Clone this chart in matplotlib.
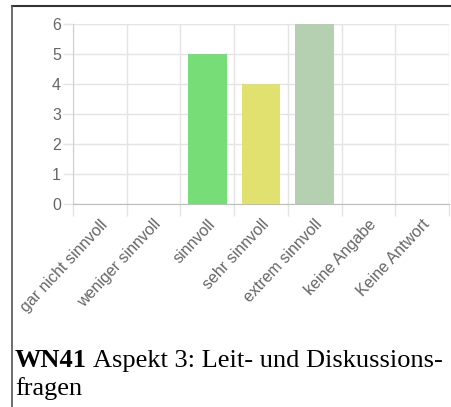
import matplotlib
matplotlib.use("Agg")
import matplotlib.pyplot as plt
import numpy as np
from matplotlib.lines import Line2D

categories = ["gar nicht sinnvoll", "weniger sinnvoll", "sinnvoll", "sehr sinnvoll",
              "extrem sinnvoll", "keine Angabe", "Keine Antwort"]
values = [0, 0, 5, 4, 6, 0, 0]
colors = ["#77dd77", "#77dd77", "#77dd77", "#e1e170", "#b5d0b1", "#cccccc", "#cccccc"]
yticks = [0, 1, 2, 3, 4, 5, 6]

W, H = 452, 407
fig = plt.figure(figsize=(W / 100, H / 100), dpi=100)

def fx(px):
    return px / W

def fy(py):
    return 1 - py / H

left, right, top, bottom = 73, 449, 24, 204
ax = fig.add_axes([fx(left), fy(bottom), fx(right) - fx(left), fy(top) - fy(bottom)])

x = np.arange(len(categories))
ax.bar(x, values, width=0.72, color=colors, zorder=3)
ax.set_xlim(-0.5, len(categories) - 0.5)
ax.set_ylim(0, 6)

grid_c = "#e4e4e4"
ax.set_yticks(yticks)
ax.set_yticklabels([str(v) for v in yticks], fontsize=11.5, color="#666666", family="Liberation Sans")
ax.tick_params(axis="y", length=7.2, width=1, color=grid_c, pad=1.5)
ax.yaxis.grid(True, color=grid_c, linewidth=1, zorder=0)

ax.set_xticks(x)
ax.set_xticklabels([])
ax.tick_params(axis="x", which="major", length=0)
ax.set_xticks(np.arange(len(categories) + 1) - 0.5, minor=True)
ax.tick_params(axis="x", which="minor", length=8.6, width=1, color=grid_c)
ax.xaxis.grid(True, which="minor", color=grid_c, linewidth=1, zorder=0)

for s in ["top", "right"]:
    ax.spines[s].set_visible(False)
ax.spines["bottom"].set_color("#bdbdbd")
ax.spines["left"].set_color("#d0d0d0")
ax.set_axisbelow(True)

for xi, lab in zip(x, categories):
    ax.annotate(lab, xy=(xi, 0), xycoords="data", xytext=(5, -18), textcoords="offset pixels",
                rotation=47, rotation_mode="anchor", ha="right", va="center",
                fontsize=11.5, color="#666666", family="Liberation Sans", annotation_clip=False)

# page border (top and left)
fig.add_artist(Line2D([fx(12), 1], [fy(6), fy(6)], color="#333333", linewidth=1.5, transform=fig.transFigure))
fig.add_artist(Line2D([fx(12), fx(12)], [fy(6), 0], color="#555555", linewidth=1.2, transform=fig.transFigure))

# caption
t1 = fig.text(fx(15), fy(367), "WN41", fontsize=19, family="Liberation Serif", weight="bold", va="baseline")
fig.canvas.draw()
bb = t1.get_window_extent()
fig.text((bb.x1 + 6) / W, fy(367), "Aspekt 3: Leit- und Diskussions-", fontsize=19,
         family="Liberation Serif", va="baseline")
fig.text(fx(15), fy(395), "fragen", fontsize=19, family="Liberation Serif", va="baseline")

fig.savefig("out.png", dpi=100)
